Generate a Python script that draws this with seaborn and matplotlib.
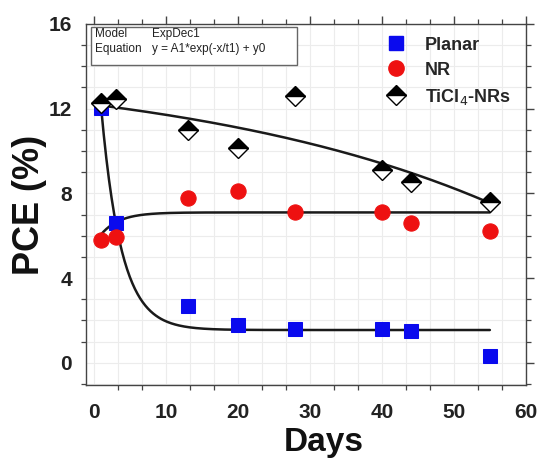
import numpy as np
import pandas as pd
import matplotlib
matplotlib.use("Agg")
import matplotlib.pyplot as plt
import seaborn as sns
from matplotlib.lines import Line2D
from matplotlib.ticker import MultipleLocator

# ---- data ----
days = [1, 3, 13, 20, 28, 40, 44, 55]
planar = [12.05, 6.6, 2.7, 1.8, 1.6, 1.6, 1.5, 0.3]
nr = [5.8, 5.95, 7.8, 8.1, 7.1, 7.1, 6.6, 6.2]
ticl4 = [12.25, 12.45, 11.0, 10.15, 12.6, 9.1, 8.55, 7.6]
series_names = ["Planar", "NR", "TiCl$_4$-NRs"]

# ExpDec1 fit parameters: y = A1*exp(-x/t1) + y0
fit_planar = dict(A1=15.05, t1=2.78, y0=1.55)
fit_nr = dict(A1=-1.53, t1=2.57, y0=7.1)
fit_ticl4 = dict(A1=-1.94, t1=-45.0, y0=14.13)
fit_range = (1, 55)

sns.set_theme(style="white")
plt.rcParams['font.family'] = ['Liberation Sans', 'DejaVu Sans']

fig = plt.figure(figsize=(5.41, 4.59), dpi=100)
ax = fig.add_axes([0.159, 0.161, 0.813, 0.787])

# fits
xf = np.linspace(fit_range[0], fit_range[1], 300)
for p in (fit_planar, fit_nr, fit_ticl4):
    yf = p["A1"] * np.exp(-xf / p["t1"]) + p["y0"]
    sns.lineplot(x=xf, y=yf, ax=ax, color="#1a1a1a", lw=1.8, zorder=2,
                 sort=False, errorbar=None)

df = pd.DataFrame({"Days": days, "Planar": planar, "NR": nr, "TiCl4": ticl4})

sns.lineplot(data=df, x="Days", y="Planar", ax=ax, ls="", marker="s",
             markersize=10, color="#0a0aee", markeredgecolor="#0a0aee",
             zorder=3, sort=False, errorbar=None)
sns.lineplot(data=df, x="Days", y="NR", ax=ax, ls="", marker="o",
             markersize=11, color="#ee1111", markeredgecolor="#ee1111",
             zorder=3, sort=False, errorbar=None)
sns.lineplot(data=df, x="Days", y="TiCl4", ax=ax, ls="", marker="D",
             markersize=10, color="black", fillstyle="top",
             markerfacecoloralt="white", markeredgecolor="black",
             markeredgewidth=1.0, zorder=4, sort=False, errorbar=None)

ax.set_xlim(-1.1, 60)
ax.set_ylim(-1.05, 16)
ax.xaxis.set_major_locator(MultipleLocator(10))
ax.xaxis.set_minor_locator(MultipleLocator(10 / 3))
ax.yaxis.set_major_locator(MultipleLocator(4))
ax.yaxis.set_minor_locator(MultipleLocator(1))
ax.grid(True, which="both", color="#ececec", lw=0.8)
ax.set_axisbelow(True)

for s in ax.spines.values():
    s.set_color("#444444")
    s.set_linewidth(1.0)
    s.set_visible(True)

ax.tick_params(which="major", direction="out", length=6, width=1.0,
               color="#444444", top=True, right=True, labelsize=15,
               pad=4)
ax.tick_params(axis="x", which="major", pad=7)
ax.tick_params(which="minor", direction="out", length=3.5, width=0.9,
               color="#444444", top=True, right=True, bottom=True, left=True)
for lab in ax.get_xticklabels() + ax.get_yticklabels():
    lab.set_fontweight("bold")
    lab.set_color("#222222")

ax.set_xlabel("Days", fontsize=24, fontweight="bold", color="#111111")
ax.xaxis.set_label_coords(0.54, -0.115)
ax.set_ylabel("PCE (%)", fontsize=26, fontweight="bold", labelpad=1, color="#111111")

# legend
handles = [
    Line2D([], [], ls="", marker="s", markersize=10, color="#0a0aee"),
    Line2D([], [], ls="", marker="o", markersize=11, color="#ee1111"),
    Line2D([], [], ls="", marker="D", markersize=10, color="black",
           fillstyle="top", markerfacecoloralt="white", markeredgecolor="black"),
]
leg = ax.legend(handles, series_names, loc="upper right",
                bbox_to_anchor=(0.995, 1.0), frameon=False,
                prop=dict(size=13, weight="bold"), handletextpad=0.6,
                labelspacing=0.45, borderaxespad=0.3)

# fit info box
box_x0, box_y0 = 0.012, 0.886
box_w, box_h = 0.468, 0.106
ax.add_patch(plt.Rectangle((box_x0, box_y0), box_w, box_h,
                           transform=ax.transAxes, fill=True, fc="white",
                           ec="#666666", lw=1.0, zorder=5))
info = [("Model", "ExpDec1"), ("Equation", "y = A1*exp(-x/t1) + y0")]
for i, (k, v) in enumerate(info):
    yy = 0.972 - 0.041 * i
    ax.text(0.020, yy, k, transform=ax.transAxes, fontsize=8.5,
            va="center", ha="left", zorder=6, color="#222222")
    ax.text(0.150, yy, v, transform=ax.transAxes, fontsize=8.5,
            va="center", ha="left", zorder=6, color="#222222")

fig.savefig("out.png", dpi=100)
